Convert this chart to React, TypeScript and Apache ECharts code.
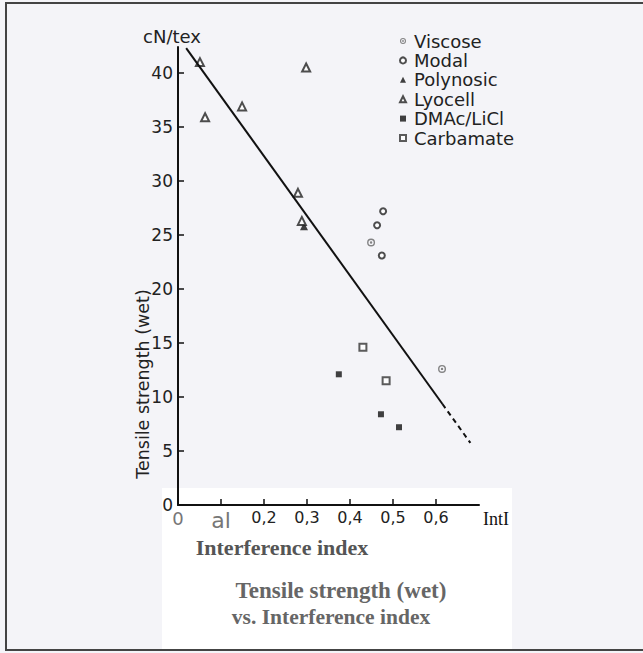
import React, { useEffect, useRef } from "react";
import * as echarts from "echarts";

const viscose: number[][] = [[0.449, 24.3], [0.614, 12.6]];
const modal: number[][] = [[0.477, 27.2], [0.463, 25.9], [0.474, 23.1]];
const polynosic: number[][] = [[0.293, 25.8]];
const lyocell: number[][] = [[0.051, 41.0], [0.063, 35.9], [0.149, 36.9], [0.298, 40.5], [0.279, 28.9], [0.288, 26.3]];
const dmac: number[][] = [[0.374, 12.1], [0.472, 8.4], [0.514, 7.2]];
const carbamate: number[][] = [[0.43, 14.6], [0.484, 11.5]];
const fitSolid: number[][] = [[0.019, 42.3], [0.615, 9.35]];
const fitDashed: number[][] = [[0.615, 9.35], [0.68, 5.75]];
const xTickLabels: string[] = ["0", "al", "0,2", "0,3", "0,4", "0,5", "0,6", ""];
const seriesNames: string[] = ["Viscose", "Modal", "Polynosic", "Lyocell", "DMAc/LiCl", "Carbamate"];

const ringDot =
  "path://M0,-10A10,10 0 1,1 0,10A10,10 0 1,1 0,-10Z M0,-6.5A6.5,6.5 0 1,0 0,6.5A6.5,6.5 0 1,0 0,-6.5Z M0,-3A3,3 0 1,1 0,3A3,3 0 1,1 0,-3Z";

export default function App() {
  const ref = useRef<HTMLDivElement>(null);
  useEffect(() => {
    if (!ref.current) return;
    const chart = echarts.init(ref.current, null, { renderer: "svg" });
    const font = "DejaVu Sans";
    chart.setOption({
      animation: false,
      backgroundColor: "#f4f4f8",
      grid: { left: 178, right: 164, top: 47, bottom: 148 },
      legend: {
        data: seriesNames,
        orient: "vertical",
        left: 394,
        top: 27,
        itemGap: 1.4,
        itemWidth: 6,
        itemHeight: 6,
        textStyle: { fontFamily: font, fontSize: 18, lineHeight: 16, color: "#222", padding: [0, 0, 0, 3] },
      },
      xAxis: {
        type: "value",
        min: 0,
        max: 0.7,
        interval: 0.1,
        axisLine: { show: true, lineStyle: { color: "#111", width: 2 } },
        axisTick: { show: true, inside: true, length: 6, lineStyle: { color: "#111", width: 1.5 } },
        splitLine: { show: false },
        axisLabel: {
          margin: 4,
          showMaxLabel: false,
          fontFamily: font,
          fontSize: 16,
          color: "#222",
          formatter: (v: number) => {
            const i = Math.round(v * 10);
            const t = xTickLabels[i] ?? "";
            if (i === 0) return "{g0|" + t + "}";
            if (i === 1) return "{g|" + t + "}";
            return t;
          },
          rich: {
            g: { fontFamily: font, fontSize: 22, color: "#777" },
            g0: { fontFamily: font, fontSize: 18, color: "#777" },
          },
        },
        name: "IntI",
        nameLocation: "end",
        nameGap: 4,
        nameTextStyle: { fontFamily: "Liberation Serif", fontSize: 18, color: "#111", verticalAlign: "top", padding: [5, 0, 0, 0] },
      },
      yAxis: {
        type: "value",
        min: 0,
        max: 42.4,
        interval: 5,
        axisLine: { show: true, lineStyle: { color: "#111", width: 2 } },
        axisTick: { show: true, inside: true, length: 6, lineStyle: { color: "#111", width: 1.5 } },
        splitLine: { show: false },
        axisLabel: { margin: 5, showMaxLabel: false, fontFamily: font, fontSize: 17, color: "#222" },
      },
      graphic: [
        {
          type: "rect",
          z: -10,
          shape: { x: 162, y: 488, width: 350, height: 162 },
          style: { fill: "#ffffff" },
        },
        {
          type: "rect",
          z: 100,
          shape: { x: 6, y: 3, width: 650, height: 647 },
          style: { fill: "none", stroke: "#444", lineWidth: 2 },
        },
        {
          type: "text",
          x: 172,
          y: 36,
          style: { text: "cN/tex", font: "18px DejaVu Sans", fill: "#222", align: "center", verticalAlign: "middle" },
        },
        {
          type: "text",
          x: 143,
          y: 384,
          rotation: Math.PI / 2,
          style: { text: "Tensile strength (wet)", font: "17.5px DejaVu Sans", fill: "#222", align: "center", verticalAlign: "middle" },
        },
        {
          type: "text",
          x: 282,
          y: 547,
          style: { text: "Interference index", font: "bold 22px Liberation Serif", fill: "#555", align: "center", verticalAlign: "middle" },
        },
        {
          type: "text",
          x: 341,
          y: 590,
          style: { text: "Tensile strength (wet)", font: "bold 23px Liberation Serif", fill: "#666", align: "center", verticalAlign: "middle" },
        },
        {
          type: "text",
          x: 331,
          y: 617,
          style: { text: "vs. Interference index", font: "bold 21.5px Liberation Serif", fill: "#666", align: "center", verticalAlign: "middle" },
        },
      ],
      series: [
        {
          name: "fit",
          type: "line",
          data: fitSolid,
          symbol: "none",
          lineStyle: { color: "#111", width: 2 },
          silent: true,
        },
        {
          name: "fitDashed",
          type: "line",
          data: fitDashed,
          symbol: "none",
          lineStyle: { color: "#111", width: 2, type: [5, 4] },
          silent: true,
        },
        {
          name: "Viscose",
          type: "scatter",
          data: viscose,
          symbol: ringDot,
          symbolSize: 8,
          itemStyle: { color: "#666" },
        },
        {
          name: "Modal",
          type: "scatter",
          data: modal,
          symbol: "emptyCircle",
          symbolSize: 6,
          itemStyle: { color: "#222", borderColor: "#222", borderWidth: 2 },
        },
        {
          name: "Polynosic",
          type: "scatter",
          data: polynosic,
          symbol: "triangle",
          symbolSize: 8,
          itemStyle: { color: "#111" },
        },
        {
          name: "Lyocell",
          type: "scatter",
          data: lyocell,
          symbol: "emptyTriangle",
          symbolSize: 8,
          itemStyle: { color: "#222", borderColor: "#222", borderWidth: 1.5 },
        },
        {
          name: "DMAc/LiCl",
          type: "scatter",
          data: dmac,
          symbol: "rect",
          symbolSize: 6,
          itemStyle: { color: "#111" },
        },
        {
          name: "Carbamate",
          type: "scatter",
          data: carbamate,
          symbol: "emptyRect",
          symbolSize: 7,
          itemStyle: { color: "#333", borderColor: "#333", borderWidth: 1.5 },
        },
      ],
    });
    return () => chart.dispose();
  }, []);
  return <div ref={ref} style={{ position: "absolute", left: 0, top: 0, width: 643, height: 653 }} />;
}
